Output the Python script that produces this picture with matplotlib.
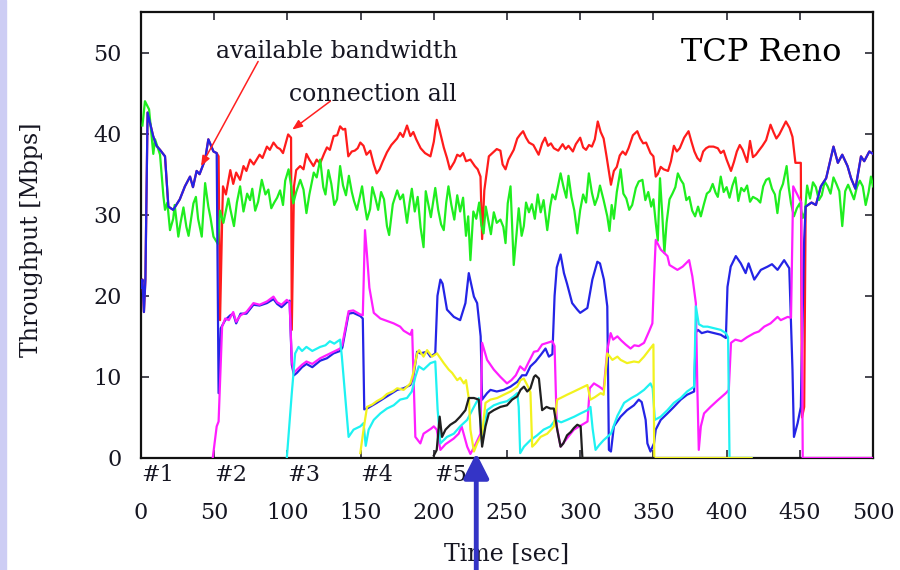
import numpy as np
import matplotlib
matplotlib.use('Agg')
import matplotlib.pyplot as plt
from matplotlib.patches import Rectangle
from matplotlib.transforms import blended_transform_factory

# (time [sec], throughput [Mbps])
BLUE = [(0, 21), (1, 22), (2, 18), (3, 22), (4.5, 42.6), (8.3, 39.7), (10.6, 38.5), (13, 38),
        (16.4, 37.2), (18.7, 31), (22, 30.6), (26.5, 31.9), (30, 33.5), (33.5, 34.7), (35.5, 33.4),
        (38, 35.4), (40, 35), (43.8, 36.8), (46, 39.3), (49.5, 37.8), (51.7, 37.6), (53, 8),
        (54.5, 16), (57.5, 17.0), (61, 17.6), (63, 17.8), (65, 16.6), (68, 17.8), (72, 17.8),
        (76.8, 18.9), (81, 18.8), (86, 19.1), (90.5, 19.6), (93, 19.0), (96, 18.6), (99.6, 19.2),
        (101.5, 19.4), (103, 11.5), (104.5, 10.2), (106.5, 10.5), (110, 11.2), (113, 11.6),
        (117, 11.2), (122.4, 12.0), (127, 12.3), (131.5, 12.9), (136, 13.2), (137.5, 13.6),
        (141.8, 17.8), (145, 17.9), (149.8, 17.5), (151.5, 17.2), (152.5, 6.0), (154.4, 6.1),
        (161, 6.8), (168, 7.6), (175, 8.4), (179.4, 8.6), (184, 9), (186, 10), (188.6, 13.1),
        (190.8, 12.9), (195.4, 13.1), (197.7, 12.5), (201, 12.9), (202.5, 20), (204.5, 22),
        (206, 21.5), (209, 18.3), (213.7, 17.4), (218, 17), (221.6, 19.1), (223.9, 22.8),
        (227.4, 19.9), (229.6, 19.1), (232, 15), (233, 7.2), (236.4, 8), (238.7, 8.4), (243, 8.2),
        (247.8, 8.4), (252.4, 8.8), (257, 9.4), (260.3, 10.2), (263, 10.2), (266, 11.3),
        (269.5, 11.9), (273, 12.7), (276.3, 13.5), (278.6, 12.5), (281, 12.8), (282.5, 20),
        (284, 23.5), (286.6, 25.1), (288.9, 22.8), (291, 21.5), (294.5, 19.1), (298, 18.3),
        (300, 17.9), (302.5, 18.2), (304.9, 18.5), (308.3, 22), (311.7, 24.2), (313.5, 24),
        (316.2, 22), (318.5, 18.7), (319.6, 1), (321, 0.8), (323, 3.9), (327.6, 5.1), (332, 5.9),
        (336.7, 6.5), (340, 7.2), (342, 6.9), (344.7, 4.7), (345.9, 1.8), (348, 0.8), (350.4, 1.8),
        (351.6, 3.5), (355, 4.7), (359.6, 5.5), (364, 6.3), (368.7, 7.2), (373, 7.8), (377.8, 8.2),
        (379, 15.5), (380.5, 15.8), (383, 15.4), (387, 15.6), (391.5, 15.4), (396, 15.2),
        (399.5, 14.8), (400.6, 21.1), (402.8, 23.6), (406.3, 24.9), (409.7, 24), (413, 22.8),
        (415, 24), (418.9, 22), (423.4, 23.2), (428, 23.6), (431, 23.9), (434.8, 23.2),
        (439.3, 24.4), (442.8, 23.4), (445, 10.9), (446, 2.6), (448.5, 4.3), (450.7, 6.3),
        (453, 27), (454, 31), (458, 31.5), (461, 31.2), (464.4, 33.5), (468, 34.5), (473, 38.4),
        (476, 36.4), (479, 37.4), (482.6, 36), (485, 34.5), (488, 33.2), (491.8, 37.2),
        (494, 36.6), (497.5, 37.8), (500, 37.5)]

MAGENTA = [(49, 0), (51.7, 3.9), (53, 4.5), (55.4, 16.2), (57.5, 17.2), (60, 17.0), (63, 18),
           (65, 16.8), (68, 17.6), (72, 18), (76.8, 19.1), (81, 18.9), (86, 19.3), (90.5, 19.9),
           (93, 19.2), (96, 18.9), (99.6, 19.5), (101.5, 19.2), (103, 12), (104.5, 10.5),
           (106.5, 10.9), (110, 11.5), (113, 11.9), (117, 11.6), (122.4, 12.3), (127, 12.7),
           (131.5, 13.1), (136, 13.5), (137.5, 14), (141.8, 18.1), (145, 18.2), (149.8, 17.7),
           (151.5, 17.6), (153, 28.1), (154.4, 25), (156, 21), (159, 17.9), (163.5, 17.2),
           (168, 16.9), (172.6, 16.6), (177, 16.2), (179.4, 15.7), (184, 15.2), (185.2, 15.8),
           (187.4, 2.6), (190.8, 1.8), (193, 3), (198, 3.6), (200, 3.9), (202, 3.5), (204.5, 1),
           (208, 1.7), (213.6, 2.4), (217, 3), (219, 3.9), (222.8, 1.4), (225, 0.5), (228, 1.5),
           (231.9, 3), (233, 14.2), (236.4, 12.1), (241, 10.9), (245.5, 10), (250, 9.2),
           (253, 9.6), (256, 10.2), (259, 11.3), (262, 10.8), (265, 11.9), (268.4, 13.1),
           (271, 13.2), (274, 14), (277.5, 14.2), (281, 14.4), (282.5, 13.8), (284, 3.9),
           (286.6, 1.4), (290, 2.2), (295.7, 3.5), (300.3, 4), (305, 4.5), (306.5, 8.6),
           (309.4, 9.2), (313, 8.8), (316, 8.4), (318.5, 13.3), (320.8, 15.4), (322.5, 14.6),
           (325.4, 15), (328, 14.5), (331, 14.0), (334.4, 13.5), (337, 13.9), (340, 13.8),
           (343.6, 14.2), (347, 15.6), (349.3, 16.6), (350.4, 22), (351.6, 26.9), (355, 25.7),
           (359.6, 24.9), (361, 23.8), (366.4, 23.2), (370, 23.6), (374.4, 24.4), (376.6, 22.4),
           (379, 19.1), (380, 8.8), (381, 1), (382.4, 3.9), (384.6, 5.5), (389, 6.3),
           (393.8, 7.1), (399.5, 8), (401.5, 8.4), (403, 14.2), (406, 14.6), (410, 14.4),
           (414, 14.9), (418.9, 15.4), (422, 15.6), (425.7, 16.2), (430, 16.6), (434.8, 17.4),
           (437, 17), (441.7, 17.4), (444, 17.3), (445.5, 33.5), (451, 31.5), (452, 0), (500, 0)]

CYAN = [(99.6, 0), (103, 8), (105.3, 12.9), (107.6, 13.7), (110, 13.2), (113, 13.7), (117, 13.2),
        (122.4, 13.7), (126, 13.9), (129, 14.4), (132, 14.1), (136, 14.6), (137.2, 12.5),
        (141.8, 2.6), (145.2, 3.5), (149.8, 3.9), (152, 4.3), (153.5, 1.5), (155.5, 3.5),
        (159, 4.7), (163.5, 5.5), (168, 6.1), (172.6, 6.5), (177, 7.2), (181.7, 7.4), (185, 8.2),
        (187.4, 10), (189.7, 11.3), (193, 10.9), (197.7, 11.7), (201, 11.9), (202.6, 6),
        (204.5, 1.8), (209, 2.6), (213.7, 3), (218, 3.9), (222.8, 4.7), (227.4, 6.3),
        (230.7, 7.4), (233, 1.8), (236.4, 5.9), (241, 6.5), (245.5, 6.8), (250, 7), (254.6, 7.6),
        (257, 8), (258, 6.3), (259, 0.6), (261.6, 1.4), (266, 2.2), (270.6, 2.8), (275, 3.5),
        (279.7, 3.9), (283, 4.7), (287, 4.4), (291, 4.7), (296, 5.1), (300.3, 5.5), (304.9, 5.9),
        (307, 6.3), (308.5, 3.6), (310.5, 1), (313, 1.6), (316, 2.2), (321, 3), (325.4, 5.2),
        (330, 6.8), (335, 7.4), (339, 7.8), (343.6, 8.4), (348, 9.2), (349.5, 8.6), (351, 4.7),
        (355, 5.1), (359.6, 5.9), (364, 6.8), (368.7, 7.4), (373, 8.2), (377.8, 8.8), (379, 18.7),
        (381, 16.5), (384, 16.2), (387, 16.2), (391.5, 16.0), (396, 15.8), (399.5, 15.4),
        (401, 14.9), (402, 0), (417, 0)]

YELLOW = [(149.8, 0.6), (152, 3.5), (154.4, 6.3), (158, 6.6), (161, 7), (165, 7.4), (168, 7.9),
          (172, 8.2), (175, 8.6), (179.4, 8.4), (184, 9.2), (186, 10.5), (188.6, 12.9), (190, 13.3),
          (193, 12.5), (195.4, 13.3), (198.8, 12.5), (202.2, 12.9), (206.8, 11.7), (210.2, 10.9),
          (212.5, 10.5), (216, 9.6), (218, 9.9), (220.5, 9.2), (222, 9.6), (224, 7.2), (225, 3.5),
          (227.4, 0.8), (229.6, 1.8), (233, 3), (235.3, 6.8), (238.7, 7.2), (243.3, 7.4),
          (247.8, 7.8), (252.4, 8.2), (257, 8.8), (259.2, 9.6), (261.5, 9.8), (263.8, 9),
          (266, 8.1), (267.2, 1.4), (269.5, 1.8), (272.9, 2.6), (277.5, 3), (282, 3.9),
          (284.3, 7.2), (286.6, 7.4), (291, 7.8), (295.7, 8.2), (300.3, 8.6), (304.9, 9),
          (307, 7.2), (310, 7.5), (314, 8), (316, 7.8), (318.5, 12.9), (322, 12.1), (325.4, 12.5),
          (327.6, 12.1), (332, 11.7), (336.7, 11.9), (340, 11.8), (343.6, 12.5), (347, 13.3),
          (350, 14), (350.6, 0), (417, 0)]

BLACK = [(200, 0.3), (202, 1), (204, 5.1), (205.6, 2.6), (208, 3.5), (211.3, 4.1), (214.8, 4.5),
         (218, 5.1), (221.6, 5.9), (223.9, 7.4), (227.4, 7.4), (230.7, 7.2), (233, 1.4),
         (235.3, 3.9), (237.6, 5.5), (241, 5.9), (245.5, 6.3), (250, 6.5), (253.5, 7.2), (257, 7.6),
         (259.2, 8.4), (261.6, 8.8), (263.8, 8.2), (266, 8.6), (268.4, 10), (269.5, 10.2),
         (271.8, 9.8), (274, 5.9), (277, 6.3), (279.7, 6.1), (282, 6.1), (284.3, 3.5), (286.6, 1.4),
         (288.5, 1.8), (291, 2.8), (293.5, 3.2), (295.7, 3.7), (298, 4.1), (300.3, 3.9),
         (301.5, 0), (350, 0)]

# available bandwidth while several connections share the link
RED = [(53, 37.2), (54, 17), (55.5, 30), (56, 33.5), (58, 32.5), (61, 35.5), (63, 33.8), (65, 35.2),
       (67.7, 34.3), (70, 36), (72, 35.4), (74.5, 36.8), (77, 36.2), (81, 37.4), (83, 37), (86, 38.4),
       (88, 38), (90.5, 38.9), (93, 38.3), (95, 38.1), (97, 37.6), (100.5, 39.9), (102.5, 39.5),
       (103, 15.8), (104.5, 33.5), (106, 35.5), (108.7, 36), (111, 35.6), (113, 37.5), (115, 36.8),
       (117.8, 36), (120, 36.8), (122.3, 36.3), (125, 37.5), (127, 38.3), (129, 38), (131.6, 39.7),
       (134, 39.8), (136, 40.9), (138, 40.5), (139.5, 40.6), (141.6, 37.2), (144, 37.8), (146, 37.9),
       (148, 38.2), (149.8, 38.9), (152, 38.5), (154, 37.4), (156.6, 37.9), (159, 36.2), (161, 35.1),
       (163, 35.6), (165, 36.5), (168, 37.7), (171, 38.6), (174.9, 39.4), (177, 40.1), (179, 39.6),
       (181.7, 41), (184, 39.7), (186, 40.2), (188, 39.3), (191, 38.2), (194, 37.6), (197.7, 37.2),
       (200, 39), (202, 41.7), (204, 40.4), (206.8, 38.3), (209, 37), (211, 35.6), (214, 36.5),
       (216, 37.4), (218, 37.2), (220, 37.6), (222, 36.6), (225, 36.8), (228, 36), (230, 35.6),
       (231.9, 34.7), (233, 27), (234.5, 33), (237.6, 37.2), (240, 37.6), (243, 38.1), (245.5, 37.9),
       (247, 36.2), (249, 35.6), (251, 36.8), (254.6, 38), (257, 39.4), (259, 39.9), (261, 40.3),
       (263, 39.5), (265, 38.9), (268, 38.6), (271.6, 37.4), (274, 38.8), (276, 39.5), (278, 38.5),
       (280, 38.8), (282, 38.2), (285, 37.9), (288, 38.7), (290, 38.1), (292, 38.5), (295, 37.8),
       (297, 38.7), (300, 39.5), (302, 38.3), (304, 38.0), (306, 38.6), (308, 38.4), (310, 39.3),
       (312, 41.5), (314, 40.2), (316, 39.4), (318, 37.2), (321, 33.7), (323, 35.4), (325, 35.9),
       (327, 37.3), (329, 37.8), (331, 37.4), (333, 38.2), (336, 39.8), (339, 40.3), (341, 39.4),
       (343, 38.8), (345, 38.9), (348, 37.6), (350, 37.2), (351.6, 34.7), (353, 35), (355, 35.9),
       (357, 35.6), (360, 35.4), (362, 36.6), (364, 38.5), (366, 37.8), (368, 38.2), (371, 39.5),
       (374, 40.3), (376, 39.0), (378, 37.8), (380, 37), (382, 36.6), (384, 37.8), (386, 38.2),
       (388, 38.4), (391, 38.4), (394, 38.2), (396, 37.6), (398, 37.9), (400, 36.8), (403, 35.4),
       (405, 36.5), (407, 37.8), (409, 38.6), (411, 38.0), (414, 36.5), (416, 39.1), (418, 37.1),
       (420, 37.4), (422, 37.9), (424.5, 38.5), (427, 39.2), (430, 41.1), (432, 40.2), (434, 39.4),
       (436, 39.9), (438, 40.6), (440.5, 41.5), (443, 40.7), (445, 39.6), (447, 36.4),
       (450.7, 36.4), (451.5, 5), (453, 6.3)]

GREEN = [(1, 41), (2.7, 44), (5.5, 43), (8.4, 37.5), (9.6, 39.3), (13, 37.4), (15.3, 32.3),
         (16.4, 30.6), (18, 31.5), (19.8, 28.1), (22, 29.5), (23, 31.2), (25.5, 27.3), (27, 29),
         (29, 30.9), (31, 28.5), (32.5, 27.4), (35.8, 31.4), (37.5, 32.2), (39, 29.5), (41.5, 27.3),
         (43.8, 33.9), (46, 31), (47.5, 29.6), (49.5, 27.3), (52.5, 26.4), (54, 30.5), (56.3, 29),
         (59.7, 32), (61, 30.7), (63.5, 28.6), (65.5, 31.5), (67.7, 33.5), (70, 30.4), (72.5, 32.6),
         (74.5, 31.8), (76, 33.2), (78, 30.5), (80, 31.6), (82.5, 34.3), (85, 32.5), (87, 33.1),
         (89, 30.8), (91, 31.5), (93, 32.1), (95, 33), (97, 31.2), (98.5, 34.2), (100.8, 35.6),
         (102.5, 33.6), (104, 31.4), (106, 32.8), (108.8, 34.3), (111, 33.1), (113, 30.2),
         (115, 32.5), (118, 35.2), (120, 34.6), (122.4, 36.8), (124.5, 33.4), (126, 32.5),
         (128, 35.5), (130, 33.8), (132, 31.2), (133.9, 31.9), (136, 36), (138, 33.6), (140, 32.4),
         (142, 34.8), (144, 32.8), (145.5, 31.7), (147.5, 30.6), (149.5, 32.2), (151, 33.5),
         (152.5, 31.5), (154.4, 29.4), (156.5, 30.7), (158, 33.4), (160, 32.1), (162, 30.6),
         (164, 32.8), (166, 31.9), (168, 28.6), (169.5, 27.5), (172, 31.3), (175, 33), (177, 31.9),
         (179, 32.5), (181.7, 29), (183.5, 31.5), (185, 33.2), (187, 30.4), (189, 32.2), (191, 28.4),
         (193, 26), (194.5, 32.9), (196, 31.5), (198, 29.7), (201, 33.3), (203, 30.6), (205, 28.8),
         (206.8, 28.1), (208.5, 31.5), (210, 33.5), (212, 31.2), (214, 29.4), (216, 32.4),
         (218, 30.4), (220, 32.1), (222, 27.4), (223.5, 29.8), (225, 24.4), (227, 30.4),
         (229, 29.5), (231, 31.5), (232.5, 28.7), (234, 27.7), (235.5, 31), (237, 29.5),
         (239, 27.6), (241, 30.3), (243, 29), (245.5, 29.4), (247.5, 28.5), (249, 26.5),
         (250.5, 31.4), (252.4, 33.5), (254.6, 23.8), (256.5, 27.6), (258, 30.8), (260, 27.4),
         (261.5, 28.6), (263, 31.5), (265, 30.3), (267, 31.3), (269, 29.5), (271, 32.5),
         (273, 30.3), (275, 31.8), (277.5, 28.1), (279.5, 31), (281, 32.5), (283, 31.9),
         (286.6, 35.1), (288.5, 33.5), (290.5, 32.1), (292, 34.8), (294, 32.2), (296, 30.5),
         (298, 27.7), (300, 30.6), (302, 32.5), (304, 31.5), (305.9, 35.1), (308, 32.7), (310, 31.2),
         (312, 32.2), (313.5, 33.6), (316, 31.8), (318.5, 29.8), (320, 28), (321.5, 31.2),
         (323, 29.5), (325, 32.8), (327.6, 35.6), (329.5, 32.6), (331.5, 32), (333.5, 30.6),
         (335.5, 31.2), (338, 33.3), (340, 34.1), (342.5, 34.3), (344.5, 31.8), (346.5, 32.8),
         (348.5, 31), (350, 31.9), (351.6, 29), (353, 26.8), (354.5, 34.5), (356, 30.2),
         (357.5, 25.3), (359, 29), (361, 31.9), (363, 32.6), (365, 33.4), (366.7, 35.1),
         (368.7, 34.3), (370.5, 33.8), (372.5, 31.8), (374.5, 32.2), (376.5, 30.5), (378.5, 29.8),
         (380.5, 31), (382.4, 29.8), (384.5, 31.3), (386.5, 32.6), (388.5, 32.9), (390.5, 33.8),
         (392.5, 32.7), (394, 32.2), (396, 34.7), (398, 32.8), (400, 33.4), (402, 32.1),
         (404, 33.6), (406, 34.6), (408, 31.7), (410, 33.3), (412, 32.9), (414, 33.6), (416, 31.6),
         (418, 32.2), (421, 31.9), (423, 31.5), (425, 33.5), (427, 34.3), (429, 34.5), (431, 33.2),
         (433, 32.5), (434.7, 30.2), (436.5, 32.9), (438.5, 33.8), (441, 36), (442.5, 33.3),
         (444, 31.4), (446, 29.8), (448, 30.8), (450, 31.4), (452, 29.6), (453.5, 30.3),
         (455, 33.6), (457, 32), (459, 34), (461, 33.4), (463, 31.8), (465, 32.4), (467, 34.1),
         (469, 33.5), (471, 32.6), (473, 34.6), (475, 33.8), (477, 32.9), (479, 28.6), (481, 32.9),
         (483, 33.7), (485, 32.8), (487, 31.9), (489, 33.4), (491, 34.2), (493, 33.5), (495, 31.2),
         (497, 32.8), (498.6, 34.7), (500, 33.5)]

CONN_STARTS = [0, 50, 100, 150, 200]
CONN_LABELS = ['#1', '#2', '#3', '#4', '#5']
X_TICKS = list(range(0, 501, 50))
Y_TICKS = list(range(0, 51, 10))
ARROW_TIME = 229

FONT = 'DejaVu Serif'
TXT = '#161622'


def xy(points):
    arr = np.array(points, dtype=float)
    return arr[:, 0], arr[:, 1]


fig = plt.figure(figsize=(9, 5.7), dpi=100)
fig.patches.append(Rectangle((0, 0), 6 / 900, 1, transform=fig.transFigure,
                             color='#cdcdf4', zorder=0))
ax = fig.add_axes([141 / 900, 112 / 570, 732 / 900, 446 / 570])

# red = available bandwidth; equals connection #1 when it runs alone
bt, bv = xy(BLUE)
rt, rv = xy(RED)
head = bt < 52
tail = bt > 453.5
red_t = np.concatenate([bt[head], rt, bt[tail]])
red_v = np.concatenate([bv[head], rv, bv[tail]])

LW = 1.6
ax.plot(red_t, red_v, color='#ff1c1c', lw=LW, zorder=3)
ax.plot(*xy(GREEN), color='#1fee1f', lw=LW, zorder=3)
ax.plot(bt, bv, color='#2424e6', lw=LW, zorder=3)
ax.plot(*xy(MAGENTA), color='#ff1eff', lw=LW, zorder=3)
ax.plot(*xy(CYAN), color='#1ef2f2', lw=LW, zorder=3)
ax.plot(*xy(YELLOW), color='#f2f21e', lw=LW, zorder=3)
ax.plot(*xy(BLACK), color='#202020', lw=LW, zorder=3)

ax.set_xlim(0, 500)
ax.set_ylim(0, 55)
ax.set_xticks(X_TICKS)
ax.set_yticks(Y_TICKS)
ax.tick_params(direction='in', top=True, right=True, length=6, width=1.1,
               labelsize=16, colors=TXT)
ax.tick_params(axis='x', pad=32)
ax.tick_params(axis='y', pad=14)
for lab in ax.get_xticklabels() + ax.get_yticklabels():
    lab.set_fontfamily(FONT)
for sp in ax.spines.values():
    sp.set_linewidth(1.6)
    sp.set_color('#111111')

ax.set_xlabel('Time [sec]', fontsize=17, family=FONT, color=TXT, va='top')
ax.xaxis.set_label_coords(0.5, -0.19)
ax.set_ylabel('Throughput [Mbps]', fontsize=17, family=FONT, color=TXT)
ax.yaxis.set_label_coords(-0.134, 0.49)

trans = blended_transform_factory(ax.transData, ax.transAxes)
for t0, lab in zip(CONN_STARTS, CONN_LABELS):
    ax.text(t0, -0.038, lab, transform=trans, ha='left', va='center',
            fontsize=16, family=FONT, color=TXT)

ax.text(134, 50.1, 'available bandwidth', ha='center', va='center',
        fontsize=17, family=FONT, color=TXT, zorder=5)
ax.text(158.7, 44.8, 'connection all', ha='center', va='center',
        fontsize=17, family=FONT, color=TXT, zorder=5)
ax.text(424, 50, 'TCP Reno', ha='center', va='center',
        fontsize=23, family=FONT, color='black', zorder=5)

ax.annotate('', xy=(41, 36), xytext=(80, 48.9),
            arrowprops=dict(arrowstyle='-|>,head_width=0.2,head_length=0.5', color='#ff2020',
                            lw=1.1, mutation_scale=12, shrinkA=0, shrinkB=0), zorder=6)
ax.annotate('', xy=(103.3, 40.5), xytext=(129.3, 44),
            arrowprops=dict(arrowstyle='-|>,head_width=0.2,head_length=0.5', color='#ff2020',
                            lw=1.1, mutation_scale=12, shrinkA=0, shrinkB=0), zorder=6)

ax.annotate('', xy=(ARROW_TIME, 0.6), xycoords='data',
            xytext=(ARROW_TIME, -0.26), textcoords=('data', 'axes fraction'),
            arrowprops=dict(arrowstyle='-|>,head_width=0.38,head_length=0.75',
                            mutation_scale=20, lw=3.5, color='#3434c6',
                            shrinkA=0, shrinkB=0),
            annotation_clip=False, zorder=7)

fig.savefig('out.png', dpi=100)
